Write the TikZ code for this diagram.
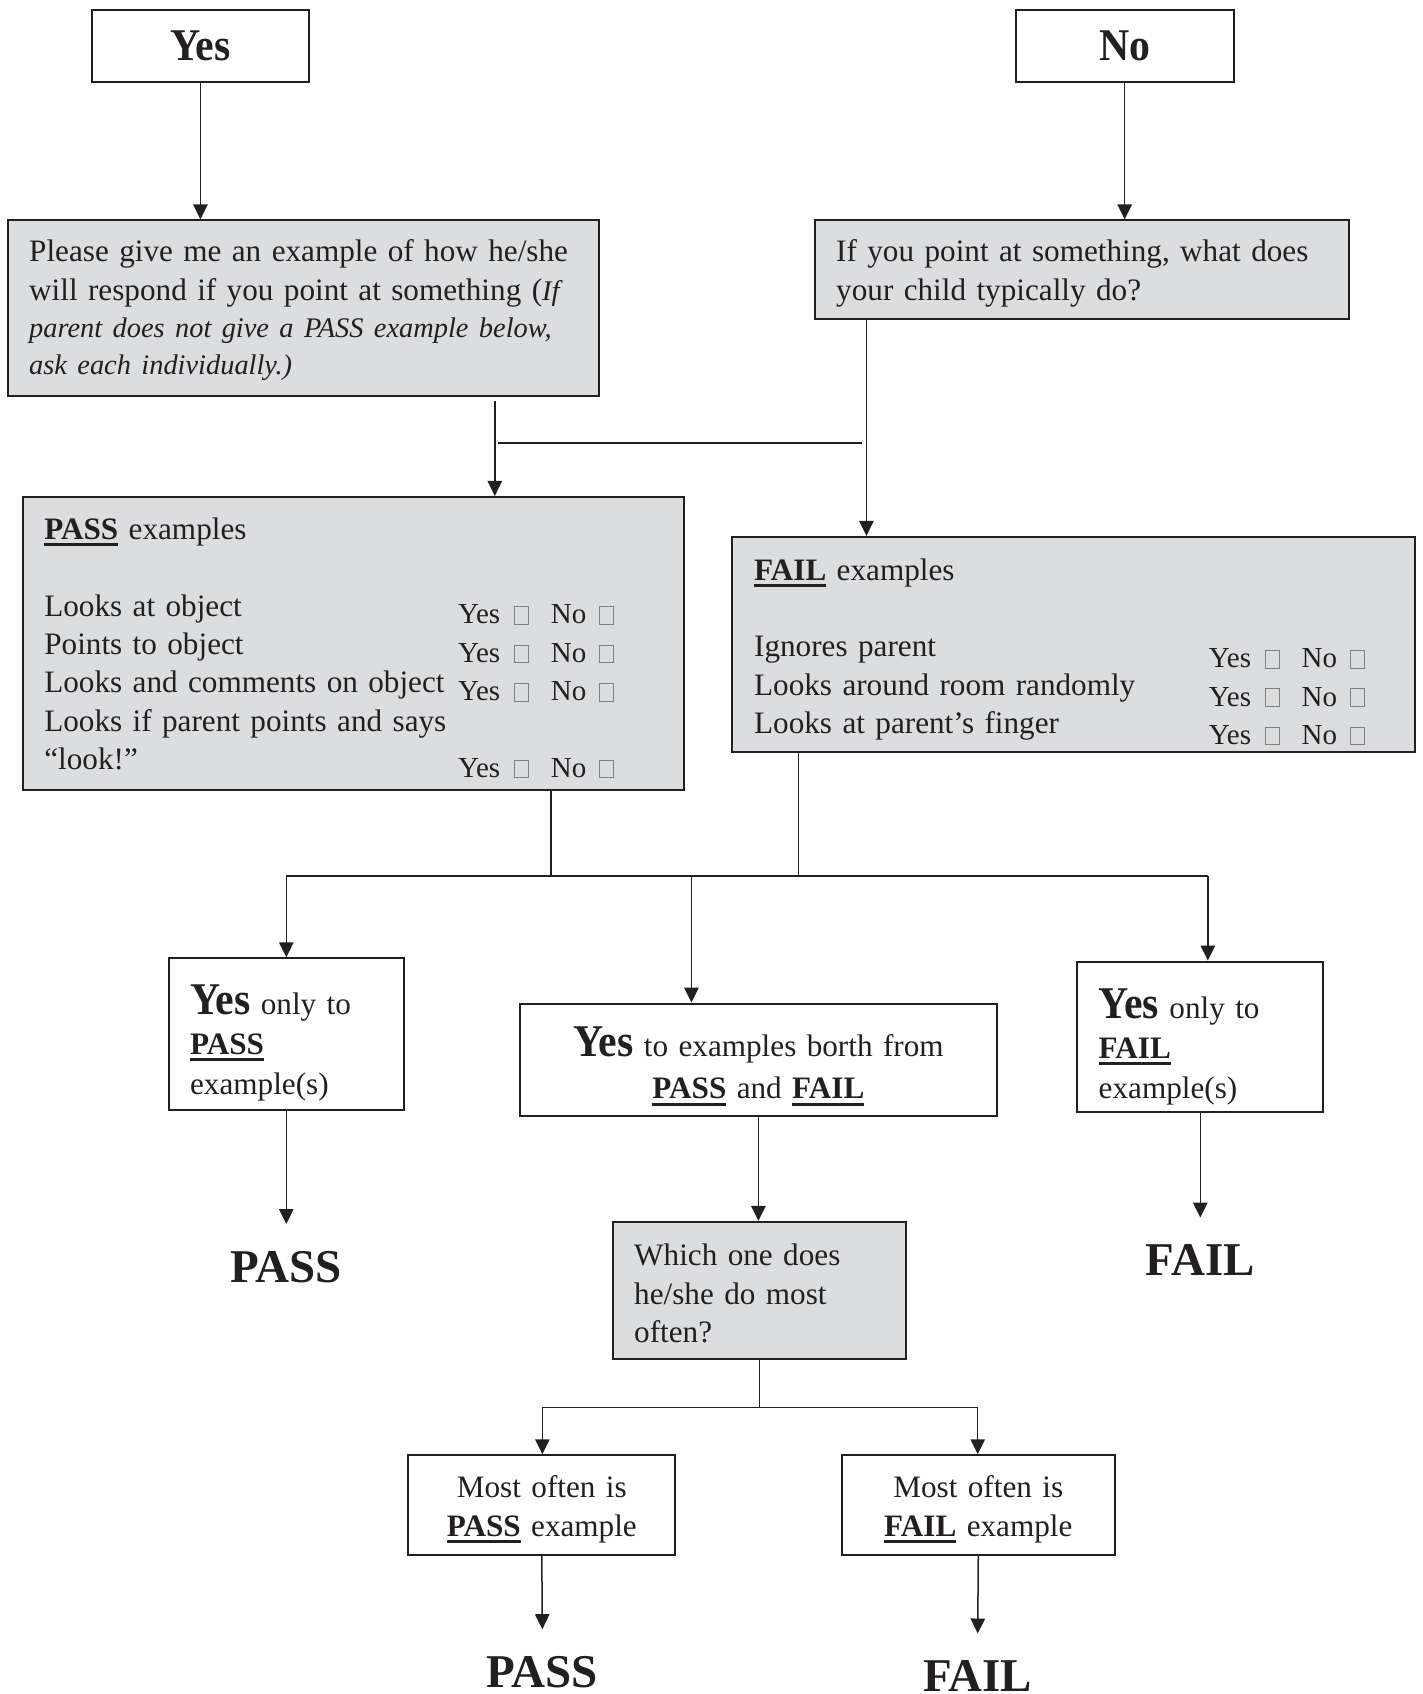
\documentclass[tikz,border=0pt]{standalone}
\usepackage{fontspec}
\setmainfont{Liberation Serif}
\newfontfamily\condserif{Liberation Serif}[FakeStretch=0.92]
\usetikzlibrary{arrows.meta}

\definecolor{ink}{RGB}{35,31,32}
\definecolor{boxgrey}{RGB}{220,221,223}

\newcommand{\px}{0.54025pt}
\newcommand{\ulbf}[1]{\leavevmode\setbox0\hbox{\bfseries #1}\rlap{\rule[-3.4pt]{\wd0}{1.5pt}}\box0\relax}
\newcommand{\cb}{\textcolor{black!50}{\fboxsep0pt\fboxrule0.5pt\fbox{\rule{0pt}{8.3pt}\rule{6.3pt}{0pt}}}}
\newcommand{\yn}[1]{\raisebox{-#1}{\fontsize{14.5}{17}\selectfont Yes\hspace{7pt}\cb\hspace{11pt}No\hspace{6.5pt}\cb}}
\newcommand{\yesbig}{{\fontsize{22.7}{24}\selectfont\condserif\bfseries Yes}}
\newcommand{\note}[1]{{\fontsize{14.2}{18.6}\selectfont\itshape #1}}
\newcommand{\topgap}[1]{\rule{0pt}{#1}}

\tikzset{
	wh/.style 2 args = {minimum width = #1*\px, minimum height = #2*\px},
	box/.style = {draw = ink, line width = 1pt, text = ink, inner xsep = 10.8pt, inner ysep = 0pt, font = \fontsize{15.6}{19.2}\selectfont},
	greybox/.style = {box, fill = boxgrey},
	link/.style = {draw = ink, line width = 0.75pt},
	arr/.style = {link, -{Triangle[length = 7.5pt, width = 7.2pt]}},
	result/.style = {text = ink, inner sep = 0pt, outer sep = 13.5pt, anchor = north, font = \fontsize{23.5}{26}\selectfont\bfseries}
}

\begin{document}
\begin{tikzpicture}[x = 0.54025pt, y = -0.54025pt]
	\useasboundingbox (0, 0) rectangle (1317, 1568);
	\node[box, wh = {201}{67}, font = \fontsize{22.7}{24}\selectfont\condserif\bfseries] (yes) at (185.5, 42.5) {Yes};
	\node[box, wh = {202}{67}, font = \fontsize{22.7}{24}\selectfont\condserif\bfseries] (no) at (1041, 42.5) {No};
	\node[greybox, wh = {547}{163}, text width = 273.9pt, align = left, font = \fontsize{15.6}{18.6}\selectfont] (q1) at (280.5, 285.5)
		{\topgap{13pt}Please give me an example of how he/she\\[0.8pt]will respond if you point at something (\note{If}\\\note{parent does not give a PASS example below,}\\\note{ask each individually.)}};
	\node[greybox, wh = {495}{91}, text width = 245.8pt, align = left, font = \fontsize{15.6}{19.4}\selectfont] (q2) at (1001.5, 249.5)
		{\topgap{15pt}If you point at something, what does\\your child typically do?};
	\node[greybox, wh = {612}{271}, text width = 309pt, align = left] (pass) at (327, 595.5)
		{\topgap{15.5pt}\ulbf{PASS} examples\\[19.2pt]
		\makebox[206.9pt][l]{Looks at object}\yn{3.8pt}\\
		\makebox[206.9pt][l]{Points to object}\yn{3.8pt}\\
		\makebox[206.9pt][l]{Looks and comments on object}\yn{3.8pt}\\
		Looks if parent points and says\\
		\makebox[206.9pt][l]{``look!''}\yn{3.8pt}};
	\node[greybox, wh = {632}{199}, text width = 319.8pt, align = left] (fail) at (994, 596.5)
		{\topgap{18.3pt}\ulbf{FAIL} examples\\[19.2pt]
		\makebox[227.4pt][l]{Ignores parent}\yn{5.4pt}\\
		\makebox[227.4pt][l]{Looks around room randomly}\yn{5.4pt}\\
		\makebox[227.4pt][l]{Looks at parent’s finger}\yn{5.4pt}};
	\node[box, wh = {218}{140}, text width = 96.2pt, align = left, font = \fontsize{15.6}{20}\selectfont] (yespass) at (265, 957)
		{\topgap{23.6pt}\yesbig{} only to\\\ulbf{PASS}\\example(s)};
	\node[box, wh = {442}{104}, text width = 217.2pt, align = center, font = \fontsize{15.6}{21}\selectfont] (both) at (702, 981)
		{\topgap{21.5pt}\yesbig{} to examples borth from\\\ulbf{PASS} and \ulbf{FAIL}};
	\node[box, wh = {228}{139}, text width = 101.6pt, align = left, font = \fontsize{15.6}{20}\selectfont] (yesfail) at (1111, 959.5)
		{\topgap{24.8pt}\yesbig{} only to\\\ulbf{FAIL}\\example(s)};
	\node[greybox, wh = {272}{127}, text width = 125.3pt, align = left] (which) at (703, 1194.5)
		{\topgap{13.9pt}Which one does\\he/she do most\\often?};
	\node[box, wh = {247}{92}, text width = 111.8pt, align = center, font = \fontsize{15.6}{19.5}\selectfont] (mpass) at (501.5, 1393)
		{\topgap{15pt}Most often is\\\ulbf{PASS} example};
	\node[box, wh = {253}{92}, text width = 115.1pt, align = center, font = \fontsize{15.6}{19.5}\selectfont] (mfail) at (905.5, 1393)
		{\topgap{15pt}Most often is\\\ulbf{FAIL} example};
	\node[result] (res1) at (265, 1133) {PASS};
	\node[result] (res2) at (1111, 1127) {FAIL};
	\node[result] (res3) at (502, 1508) {PASS};
	\node[result] (res4) at (905, 1512) {FAIL};
	\coordinate (q1out) at (458, 371);
	\coordinate (q2out) at (802, 295);
	\coordinate (j1) at (461, 410);
	\coordinate (j2) at (798, 410);
	\coordinate (pdown) at (510, 811);
	\coordinate (fdown) at (739, 811);
	\coordinate (sl) at (265, 811);
	\coordinate (sm) at (640, 811);
	\coordinate (sr) at (1118, 811);
	\coordinate (wsplit) at (703, 1303);
	\coordinate (wl) at (502, 1303);
	\coordinate (wr) at (905, 1303);
	\draw[arr] (yes.south) -- (yes.south |- q1.north);
	\draw[arr] (no.south) -- (no.south |- q2.north);
	\draw[arr] (q1out) -- (q1out |- pass.north);
	\draw[arr] (q2out) -- (q2out |- fail.north);
	\draw[link] (j1) -- (j2);
	\draw[link] (pdown |- pass.south) -- (pdown);
	\draw[link] (fdown |- fail.south) -- (fdown);
	\draw[link] (sl) -- (sr);
	\draw[arr] (sl) -- (sl |- yespass.north);
	\draw[arr] (sm) -- (sm |- both.north);
	\draw[arr] (sr) -- (sr |- yesfail.north);
	\draw[arr] (yespass.south) -- (res1.north);
	\draw[arr] (yesfail.south) -- (res2.north);
	\draw[arr] (both.south) -- (both.south |- which.north);
	\draw[link] (which.south) -- (wsplit);
	\draw[link] (wl) -- (wr);
	\draw[arr] (wl) -- (wl |- mpass.north);
	\draw[arr] (wr) -- (wr |- mfail.north);
	\draw[arr] (mpass.south) -- (res3.north);
	\draw[arr] (mfail.south) -- (res4.north);
\end{tikzpicture}
\end{document}
